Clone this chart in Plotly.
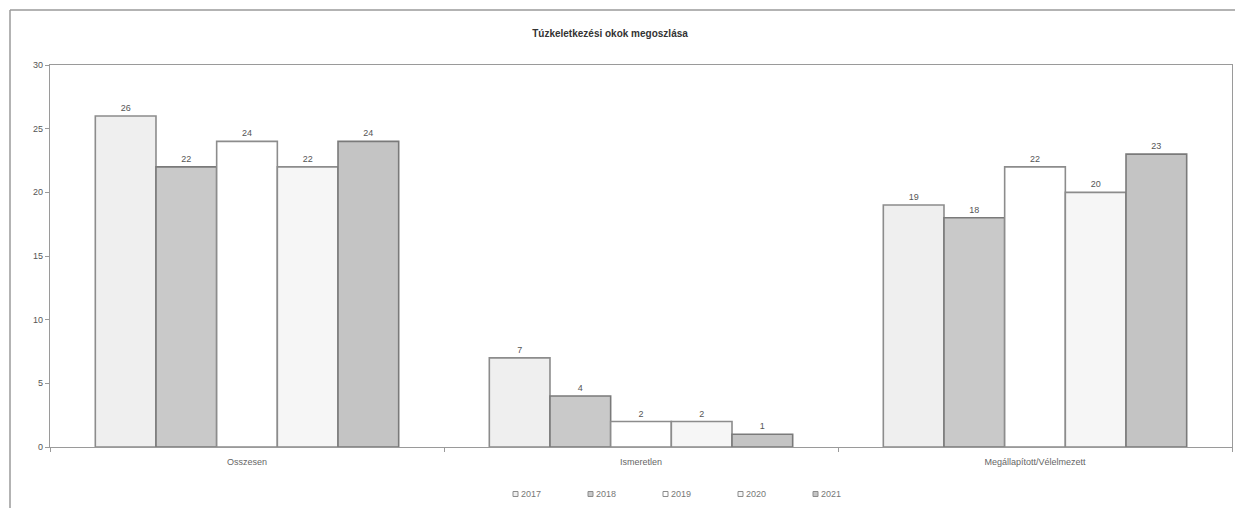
import plotly.graph_objects as go

categories = ["Osszesen", "Ismeretlen", "Megállapított/Vélelmezett"]
years = ["2017", "2018", "2019", "2020", "2021"]
values = {
    "2017": [26, 7, 19],
    "2018": [22, 4, 18],
    "2019": [24, 2, 22],
    "2020": [22, 2, 20],
    "2021": [24, 1, 23],
}
fills = {
    "2017": "#efefef",
    "2018": "#c9c9c9",
    "2019": "#ffffff",
    "2020": "#f6f6f6",
    "2021": "#c4c4c4",
}
edges = {
    "2017": "#8c8c8c",
    "2018": "#7a7a7a",
    "2019": "#8c8c8c",
    "2020": "#8c8c8c",
    "2021": "#7a7a7a",
}

FONT = "Liberation Sans, Arial, sans-serif"
W, H = 1235, 508
ML, MR, MT, MB = 50, 3, 65, 61
PW, PH = W - ML - MR, H - MT - MB


def px_x(x):
    return (x - ML) / PW


def px_y(y):
    return (H - MB - y) / PH


fig = go.Figure()
for y in years:
    fig.add_trace(go.Bar(
        name=y,
        x=categories,
        y=values[y],
        marker=dict(color=fills[y], line=dict(color=edges[y], width=1.6)),
        text=[str(v) for v in values[y]],
        textposition="outside",
        textfont=dict(size=9, color="#555555", family=FONT),
        cliponaxis=False,
        showlegend=False,
    ))

fig.update_layout(
    width=W,
    height=H,
    margin=dict(l=ML, r=MR, t=MT, b=MB),
    paper_bgcolor="white",
    plot_bgcolor="white",
    barmode="group",
    bargap=0.23,
    bargroupgap=0,
    font=dict(family=FONT, size=9, color="#555555"),
    title=dict(
        text="<b>Túzkeletkezési okok megoszlása</b>",
        x=610 / W,
        xanchor="center",
        y=1 - 33 / H,
        yanchor="middle",
        yref="container",
        font=dict(size=10, color="#333333", family=FONT),
    ),
    showlegend=False,
)

fig.update_xaxes(
    type="category",
    showline=True,
    linecolor="#9a9a9a",
    linewidth=1.3,
    mirror=True,
    ticks="outside",
    tickson="boundaries",
    ticklen=4,
    tickcolor="#9a9a9a",
    ticklabelstandoff=6,
    showgrid=False,
    tickfont=dict(size=9, color="#666666", family=FONT),
)
fig.update_yaxes(
    range=[0, 30],
    tickvals=[0, 5, 10, 15, 20, 25, 30],
    showline=True,
    linecolor="#9a9a9a",
    linewidth=1.3,
    mirror=True,
    ticks="outside",
    ticklen=4,
    tickcolor="#9a9a9a",
    showgrid=False,
    zeroline=False,
    tickfont=dict(size=9, color="#555555", family=FONT),
)

# compact legend below the plot: small square key followed by the year
legend_y = 494
for i, yr in enumerate(years):
    x0 = 513 + 75 * i
    fig.add_shape(type="rect", xref="paper", yref="paper",
                  x0=px_x(x0), x1=px_x(x0 + 5),
                  y0=px_y(legend_y + 2.5), y1=px_y(legend_y - 2.5),
                  fillcolor=fills[yr], line=dict(color="#8c8c8c", width=1))
    fig.add_annotation(xref="paper", yref="paper",
                       x=px_x(x0 + 6), y=px_y(legend_y),
                       xanchor="left", yanchor="middle", showarrow=False,
                       text=yr, font=dict(size=9, color="#777777", family=FONT))

# outer chart frame (left and top edges)
fig.add_shape(type="line", xref="paper", yref="paper",
              x0=px_x(10), x1=px_x(10),
              y0=px_y(H), y1=px_y(10),
              line=dict(color="#9a9a9a", width=1.5))
fig.add_shape(type="line", xref="paper", yref="paper",
              x0=px_x(10), x1=px_x(W),
              y0=px_y(10), y1=px_y(10),
              line=dict(color="#9a9a9a", width=1.5))

fig.write_html("out.html")
